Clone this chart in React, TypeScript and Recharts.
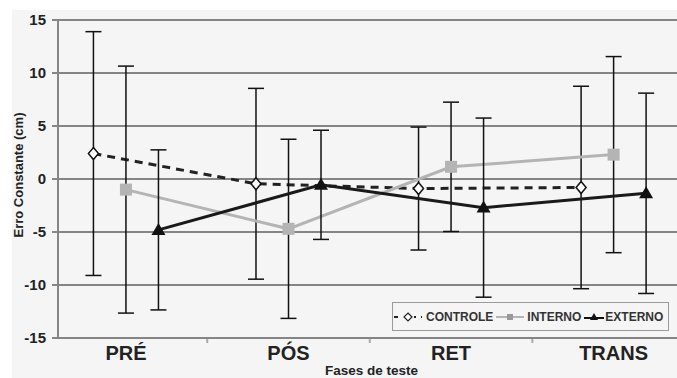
import React from 'react'
import {
  LineChart,
  Line,
  XAxis,
  YAxis,
  CartesianGrid,
  ErrorBar
} from 'recharts'

// fases de teste
const categories = ['PRÉ', 'PÓS', 'RET', 'TRANS']

// médias e desvios (cm)
const controleMean = [2.4, -0.45, -0.9, -0.8]
const controleSd = [11.5, 9.0, 5.8, 9.55]
const internoMean = [-1.0, -4.7, 1.15, 2.3]
const internoSd = [11.65, 8.45, 6.1, 9.25]
const externoMean = [-4.8, -0.55, -2.7, -1.35]
const externoSd = [7.55, 5.15, 8.45, 9.45]

const yTicks = [-15, -10, -5, 0, 5, 10, 15]
const xTicks = [0, 0.5, 1, 1.5, 2, 2.5, 3]

const FONT = '"Liberation Sans", Arial, sans-serif'
const GRID = '#858585'

const build = (means: number[], sds: number[], shift: number) =>
  means.map((m, i) => ({ x: i + shift, y: m, err: sds[i] }))

const controle = build(controleMean, controleSd, -0.2)
const interno = build(internoMean, internoSd, 0)
const externo = build(externoMean, externoSd, 0.2)

const Diamond = (p: any) => {
  const { cx, cy } = p
  return (
    <polygon
      key={p.key}
      points={`${cx},${cy - 6} ${cx + 5},${cy} ${cx},${cy + 6} ${cx - 5},${cy}`}
      fill="#fff"
      stroke="#111"
      strokeWidth={1.5}
    />
  )
}

const Square = (p: any) => {
  const { cx, cy } = p
  return <rect key={p.key} x={cx - 6} y={cy - 6} width={12} height={12} fill="#b4b4b4" />
}

const Triangle = (p: any) => {
  const { cx, cy } = p
  return (
    <polygon
      key={p.key}
      points={`${cx},${cy - 7} ${cx + 7},${cy + 5} ${cx - 7},${cy + 5}`}
      fill="#111"
    />
  )
}

const XTick = (p: any) => {
  const { x, y, payload } = p
  const v = payload.value
  if (Number.isInteger(v)) {
    return (
      <text
        x={x}
        y={y + 8}
        dy="0.71em"
        textAnchor="middle"
        fontFamily={FONT}
        fontWeight="bold"
        fontSize={20}
        fill="#222"
      >
        {categories[v]}
      </text>
    )
  }
  return <line x1={x} x2={x} y1={y + 1} y2={y + 5} stroke="#aaa" strokeWidth={2} />
}

const YTitle = (p: any) => {
  const vb = p.viewBox
  const cy = vb.y + vb.height / 2 - 4
  return (
    <text
      x={18}
      y={cy}
      transform={`rotate(-90 18 ${cy})`}
      textAnchor="middle"
      dominantBaseline="central"
      fontFamily={FONT}
      fontWeight="bold"
      fontSize={13}
      fill="#222"
    >
      Erro Constante (cm)
    </text>
  )
}

const legendText: React.CSSProperties = {
  fontFamily: FONT,
  fontWeight: 'bold',
  fontSize: 12,
  color: '#333',
  marginRight: 2
}

const ChartLegend = () => (
  <div
    style={{
      position: 'absolute',
      left: 392,
      top: 302,
      width: 277,
      height: 29,
      border: '1px solid #9a9a9a',
      boxSizing: 'border-box',
      display: 'flex',
      alignItems: 'center',
      whiteSpace: 'nowrap'
    }}
  >
    <svg width={30} height={12} style={{ marginRight: 3 }}>
      <line x1={1} x2={29} y1={6} y2={6} stroke="#222" strokeWidth={2} strokeDasharray="4 5" />
      <rect x={9} y={1} width={12} height={10} fill="#f5f5f5" />
      <polygon points="15,2 19,6 15,10 11,6" fill="#fff" stroke="#222" strokeWidth={1.2} />
    </svg>
    <span style={legendText}>CONTROLE</span>
    <svg width={30} height={12} style={{ marginRight: 2 }}>
      <line x1={1} x2={29} y1={6} y2={6} stroke="#b4b4b4" strokeWidth={2} />
      <rect x={12} y={3} width={6} height={6} fill="#999" />
    </svg>
    <span style={legendText}>INTERNO</span>
    <svg width={22} height={12}>
      <line x1={1} x2={21} y1={7} y2={7} stroke="#111" strokeWidth={2} />
      <polygon points="11,2 15,9 7,9" fill="#111" />
    </svg>
    <span style={legendText}>EXTERNO</span>
  </div>
)

export default function App() {
  return (
    <div
      style={{
        position: 'absolute',
        left: 0,
        top: 0,
        width: 677,
        height: 378,
        overflow: 'hidden',
        background: '#fff'
      }}
    >
      <div
        style={{ position: 'absolute', left: 12, top: 10, right: 0, bottom: 0, background: '#f5f5f5' }}
      />
      <div style={{ position: 'absolute', left: 0, top: 0 }}>
        <LineChart width={677} height={378} margin={{ top: 20, right: 0, bottom: 0, left: 12 }}>
          <CartesianGrid vertical={false} stroke={GRID} strokeWidth={2} />
          <XAxis
            type="number"
            dataKey="x"
            domain={[-0.418, 3.39]}
            ticks={xTicks}
            interval={0}
            height={40}
            tickLine={false}
            tickSize={0}
            tickMargin={0}
            tick={<XTick />}
            axisLine={{ stroke: GRID, strokeWidth: 2 }}
            allowDataOverflow
            label={{
              value: 'Fases de teste',
              position: 'insideBottom',
              offset: 3,
              dx: 4,
              style: { fontFamily: FONT, fontWeight: 'bold', fontSize: 13.5, fill: '#222' }
            }}
          />
          <YAxis
            type="number"
            domain={[-15, 15]}
            ticks={yTicks}
            interval={0}
            width={46}
            tickSize={6}
            tickMargin={6}
            tickLine={{ stroke: GRID, strokeWidth: 2 }}
            axisLine={{ stroke: GRID, strokeWidth: 2 }}
            tick={{ fontFamily: FONT, fontWeight: 'bold', fontSize: 15, fill: '#222' }}
            label={<YTitle />}
          />
          <Line
            data={controle}
            dataKey="y"
            type="linear"
            stroke="#222"
            strokeWidth={3}
            strokeDasharray="8 6"
            dot={Diamond}
            activeDot={false}
            isAnimationActive={false}
          >
            <ErrorBar dataKey="err" direction="y" width={8} stroke="#111" strokeWidth={1.5} />
          </Line>
          <Line
            data={interno}
            dataKey="y"
            type="linear"
            stroke="#b4b4b4"
            strokeWidth={3}
            dot={Square}
            activeDot={false}
            isAnimationActive={false}
          >
            <ErrorBar dataKey="err" direction="y" width={8} stroke="#111" strokeWidth={1.5} />
          </Line>
          <Line
            data={externo}
            dataKey="y"
            type="linear"
            stroke="#1a1a1a"
            strokeWidth={3}
            dot={Triangle}
            activeDot={false}
            isAnimationActive={false}
          >
            <ErrorBar dataKey="err" direction="y" width={8} stroke="#111" strokeWidth={1.5} />
          </Line>
        </LineChart>
      </div>
      <ChartLegend />
    </div>
  )
}
